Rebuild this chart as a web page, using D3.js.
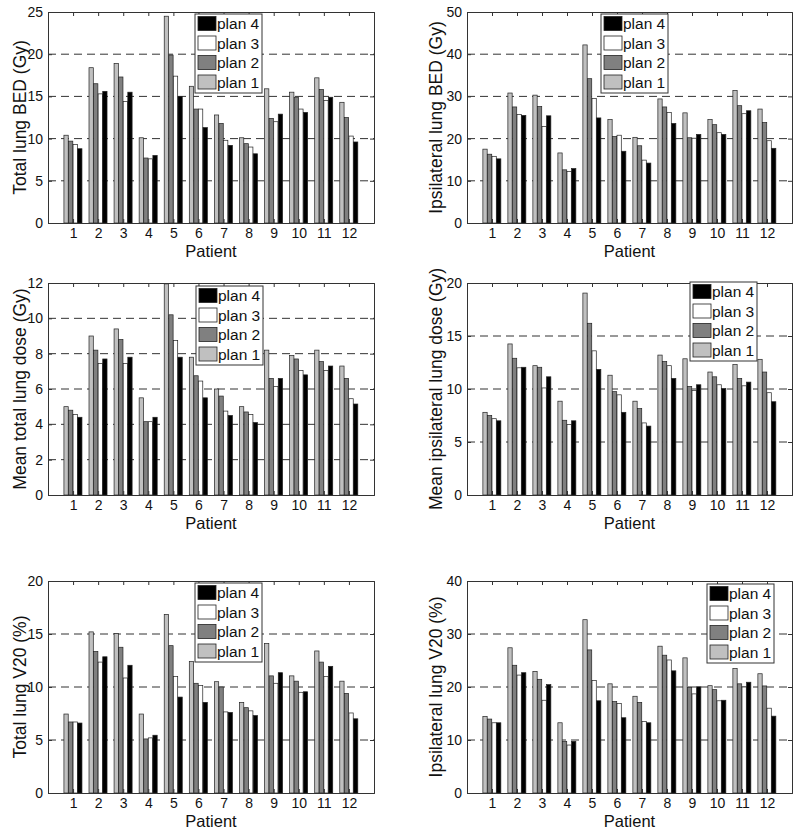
<!DOCTYPE html>
<html>
<head>
<meta charset="utf-8">
<script src="https://cdn.jsdelivr.net/npm/d3@7"></script>
<style>
  html, body { margin: 0; padding: 0; background: #fff; }
  svg { display: block; }
  text { font-family: "Liberation Sans", Arial, sans-serif; fill: #111; }
</style>
</head>
<body>
<svg id="chart" width="800" height="830"></svg>
<script>
// ---------- data ----------
const patients = [1, 2, 3, 4, 5, 6, 7, 8, 9, 10, 11, 12];
const planNames = ["plan 1", "plan 2", "plan 3", "plan 4"];
const planColors = ["#c0c0c0", "#808080", "#ffffff", "#000000"];

// each array: [plan1, plan2, plan3, plan4], one value per patient
const totalLungBED = [
  [10.4, 18.4, 18.9, 10.1, 24.5, 16.2, 12.8, 10.1, 15.9, 15.5, 17.2, 14.3],
  [9.7, 16.5, 17.3, 7.7, 19.9, 13.5, 11.8, 9.4, 12.4, 14.9, 15.8, 12.5],
  [9.3, 15.3, 14.4, 7.6, 17.4, 13.5, 9.8, 9.0, 12.0, 13.5, 14.5, 10.3],
  [8.8, 15.6, 15.5, 8.0, 15.0, 11.3, 9.2, 8.2, 12.9, 13.1, 14.9, 9.6]
];
const ipsiLungBED = [
  [17.5, 30.8, 30.3, 16.6, 42.2, 24.5, 20.3, 29.4, 26.1, 24.5, 31.4, 27.0],
  [16.3, 27.5, 27.6, 12.6, 34.2, 20.5, 18.3, 27.5, 20.2, 23.3, 27.8, 23.8],
  [15.8, 25.7, 22.9, 12.2, 29.5, 20.8, 14.9, 26.2, 20.1, 21.4, 25.9, 19.5],
  [15.2, 25.5, 25.4, 12.9, 24.9, 17.0, 14.2, 23.6, 21.0, 21.0, 26.6, 17.7]
];
const meanTotalDose = [
  [5.0, 9.0, 9.4, 5.5, 11.95, 7.8, 6.0, 5.0, 8.2, 7.9, 8.2, 7.3],
  [4.8, 8.2, 8.8, 4.15, 10.2, 6.75, 5.6, 4.7, 6.6, 7.7, 7.55, 6.6],
  [4.55, 7.45, 7.45, 4.15, 8.75, 6.45, 4.75, 4.55, 6.15, 7.05, 7.05, 5.45],
  [4.4, 7.7, 7.8, 4.4, 7.8, 5.5, 4.5, 4.1, 6.6, 6.8, 7.3, 5.15]
];
const meanIpsiDose = [
  [7.8, 14.25, 12.2, 8.85, 19.05, 11.3, 8.85, 13.2, 12.85, 11.6, 12.3, 12.8],
  [7.5, 12.9, 12.05, 7.05, 16.2, 9.75, 8.15, 12.6, 10.25, 11.15, 11.0, 11.6],
  [7.2, 12.0, 10.1, 6.65, 13.6, 9.45, 6.8, 12.2, 9.85, 10.4, 10.3, 9.65],
  [7.0, 12.05, 11.15, 7.0, 11.85, 7.8, 6.5, 11.0, 10.4, 10.05, 10.65, 8.8]
];
const totalV20 = [
  [7.45, 15.2, 15.05, 7.45, 16.85, 12.4, 10.5, 8.55, 14.1, 11.05, 13.4, 10.55],
  [6.7, 13.35, 13.75, 5.1, 13.9, 10.35, 10.0, 8.05, 11.05, 10.55, 12.35, 9.4],
  [6.7, 12.35, 10.85, 5.2, 11.0, 10.15, 7.65, 7.75, 10.35, 9.5, 11.0, 7.55],
  [6.6, 12.85, 12.05, 5.45, 9.05, 8.55, 7.6, 7.3, 11.35, 9.55, 11.95, 7.0]
];
const ipsiV20 = [
  [14.45, 27.4, 22.95, 13.25, 32.7, 20.6, 18.25, 27.7, 25.5, 20.25, 23.5, 22.5],
  [13.95, 24.1, 21.45, 9.75, 27.0, 17.25, 17.1, 26.0, 19.95, 19.5, 20.6, 20.2],
  [13.25, 22.25, 17.5, 9.05, 21.2, 16.9, 13.5, 25.1, 18.7, 17.4, 20.0, 16.0],
  [13.25, 22.7, 20.45, 9.75, 17.4, 14.2, 13.25, 23.05, 20.05, 17.5, 20.9, 14.5]
];

const yLabels = ["Total lung BED (Gy)", "Ipsilateral lung BED (Gy)",
                 "Mean total lung dose (Gy)", "Mean ipsilateral lung dose (Gy)",
                 "Total lung V20 (%)", "Ipsilateral lung V20 (%)"];
const yMaxes = [25, 50, 12, 20, 20, 40];
const yTickSteps = [5, 10, 2, 5, 5, 10];
const xLabel = "Patient";

// ---------- layout ----------
const panels = [
  { data: totalLungBED,  left: 48,  top: 12,  width: 326, height: 211, labX: 26,  legX: 195, legY: 14 },
  { data: ipsiLungBED,   left: 467, top: 12,  width: 325, height: 211, labX: 442, legX: 601, legY: 14 },
  { data: meanTotalDose, left: 48,  top: 283, width: 326, height: 212, labX: 26,  legX: 196, legY: 286 },
  { data: meanIpsiDose,  left: 467, top: 283, width: 325, height: 212, labX: 442, legX: 690, legY: 282 },
  { data: totalV20,      left: 48,  top: 581, width: 326, height: 212, labX: 26,  legX: 195, legY: 583 },
  { data: ipsiV20,       left: 467, top: 581, width: 325, height: 212, labX: 442, legX: 707, legY: 584 }
];

const svg = d3.select("#chart");
const axisColor = "#333";

panels.forEach((p, pi) => {
  const g = svg.append("g").attr("transform", `translate(${p.left},${p.top})`);
  const x = d3.scaleLinear().domain([0, 13]).range([0, p.width]);
  const y = d3.scaleLinear().domain([0, yMaxes[pi]]).range([p.height, 0]);
  const yTicks = d3.range(0, yMaxes[pi] + 1e-9, yTickSteps[pi]);

  // dashed grid
  g.selectAll("line.grid").data(yTicks.filter(t => t > 0 && t < yMaxes[pi]))
    .join("line").attr("class", "grid")
    .attr("x1", 0).attr("x2", p.width)
    .attr("y1", d => y(d)).attr("y2", d => y(d))
    .attr("stroke", "#333").attr("stroke-width", 1)
    .attr("stroke-dasharray", "8,5");

  // bars
  const groupW = 0.73;
  const barW = groupW / 4;
  p.data.forEach((series, si) => {
    g.selectAll(`rect.s${si}`).data(series).join("rect")
      .attr("class", `s${si}`)
      .attr("x", (d, i) => x(patients[i] + (si - 2) * barW))
      .attr("width", x(barW * 0.94) - x(0))
      .attr("y", d => y(d))
      .attr("height", d => y(0) - y(d))
      .attr("fill", planColors[si])
      .attr("stroke", "#222").attr("stroke-width", 0.7);
  });

  // axes: inward ticks on all sides
  const xb = g.append("g").attr("transform", `translate(0,${p.height})`)
    .call(d3.axisBottom(x).tickValues(patients).tickSize(-4).tickPadding(5).tickFormat(d3.format("d")));
  const xt = g.append("g")
    .call(d3.axisTop(x).tickValues(patients).tickSize(-4).tickFormat(""));
  const yl = g.append("g")
    .call(d3.axisLeft(y).tickValues(yTicks).tickSize(-4).tickPadding(5).tickFormat(d3.format("d")));
  const yr = g.append("g").attr("transform", `translate(${p.width},0)`)
    .call(d3.axisRight(y).tickValues(yTicks).tickSize(-4).tickFormat(""));
  [xb, xt, yl, yr].forEach(a => {
    a.select(".domain").attr("stroke", axisColor).attr("stroke-width", 1);
    a.selectAll(".tick line").attr("stroke", axisColor);
    a.selectAll(".tick text").style("font-size", "14px")
      .style("font-family", '"Liberation Sans", Arial, sans-serif').attr("fill", "#111");
  });

  // axis titles
  g.append("text")
    .attr("x", p.width / 2).attr("y", p.height + 34)
    .attr("text-anchor", "middle").style("font-size", "16.5px")
    .text(xLabel);
  svg.append("text")
    .attr("transform", `translate(${p.labX},${p.top + p.height / 2}) rotate(-90)`)
    .attr("text-anchor", "middle").style("font-size", "17.5px")
    .text(yLabels[pi]);

  // legend (plan 4 at top)
  const lg = svg.append("g").attr("transform", `translate(${p.legX},${p.legY})`);
  lg.append("rect").attr("x", 0).attr("y", 0).attr("width", 67).attr("height", 79)
    .attr("fill", "#fff").attr("stroke", "#333").attr("stroke-width", 1);
  const order = [3, 2, 1, 0];
  order.forEach((si, k) => {
    const cy = 9.5 + k * 19.5;
    lg.append("rect").attr("x", 3).attr("y", cy - 7).attr("width", 18).attr("height", 14)
      .attr("fill", planColors[si]).attr("stroke", "#222").attr("stroke-width", 0.8);
    lg.append("text").attr("x", 22).attr("y", cy).attr("dy", "0.36em")
      .style("font-size", "15.5px").text(planNames[si]);
  });
});
</script>
</body>
</html>
